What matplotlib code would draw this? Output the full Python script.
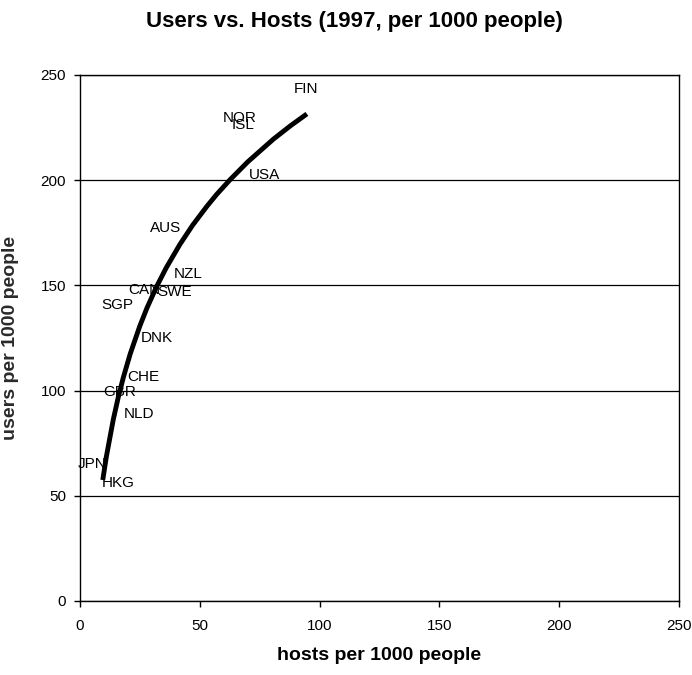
import matplotlib
matplotlib.use("Agg")
import matplotlib.pyplot as plt

plt.rcParams['font.family'] = ['Liberation Sans', 'DejaVu Sans']

# country label positions (hosts, users per 1000 people)
countries = ['FIN', 'NOR', 'ISL', 'USA', 'AUS', 'NZL', 'CAN', 'SWE',
             'SGP', 'DNK', 'CHE', 'GBR', 'NLD', 'JPN', 'HKG']
hosts = [94.5, 66.6, 68.2, 77.0, 35.7, 45.1, 26.9, 39.4,
         15.4, 32.1, 26.3, 16.7, 24.8, 5.2, 15.9]
users = [243.4, 229.6, 226.2, 202.4, 177.5, 155.4, 148.0, 147.0,
         140.6, 125.2, 106.7, 99.1, 88.9, 65.1, 56.1]

# trend curve, points
trend_hosts = [9.5, 11, 13.9, 16, 18.1, 21, 25, 28, 32, 36, 41.7, 47,
               52.9, 57, 62.6, 70, 80.7, 88, 94.7]
trend_users = [57.5, 68.6, 86.3, 97.0, 106.3, 117.6, 130.8, 139.4, 149.5,
               158.4, 169.5, 178.6, 187.5, 193.2, 200.2, 208.7, 219.5,
               226.0, 231.5]

fig = plt.figure(figsize=(6.92, 6.75), dpi=100)
ax = fig.add_axes([80 / 692, 1 - 601 / 675, 599 / 692, 526 / 675])

ax.plot(trend_hosts, trend_users, color='black', linewidth=3.5,
        solid_capstyle='butt')

for name, x, y in zip(countries, hosts, users):
    ax.text(x, y, name, ha='center', va='center', fontsize=11, color='black')

ax.set_xlim(0, 250)
ax.set_ylim(0, 250)
ax.set_xticks(range(0, 251, 50))
ax.set_yticks(range(0, 251, 50))
ax.yaxis.grid(True, color='black', linewidth=0.9)
ax.set_axisbelow(True)
for s in ax.spines.values():
    s.set_linewidth(1.0)
ax.tick_params(direction='out', length=4, width=1, labelsize=11)
ax.tick_params(axis='y', pad=6)
ax.tick_params(axis='x', pad=9)

ax.set_xlabel('hosts per 1000 people', fontsize=14, fontweight='bold', labelpad=10)
ax.set_ylabel('users per 1000 people', fontsize=14, fontweight='bold',
              color='#2a2a2a')
ax.yaxis.set_label_coords(-(80 - 19) / 599, 0.5)
fig.text(354 / 692, 1 - 22 / 675, 'Users vs. Hosts (1997, per 1000 people)',
         ha='center', va='center', fontsize=16, fontweight='bold')

fig.savefig('out.png', dpi=100)
